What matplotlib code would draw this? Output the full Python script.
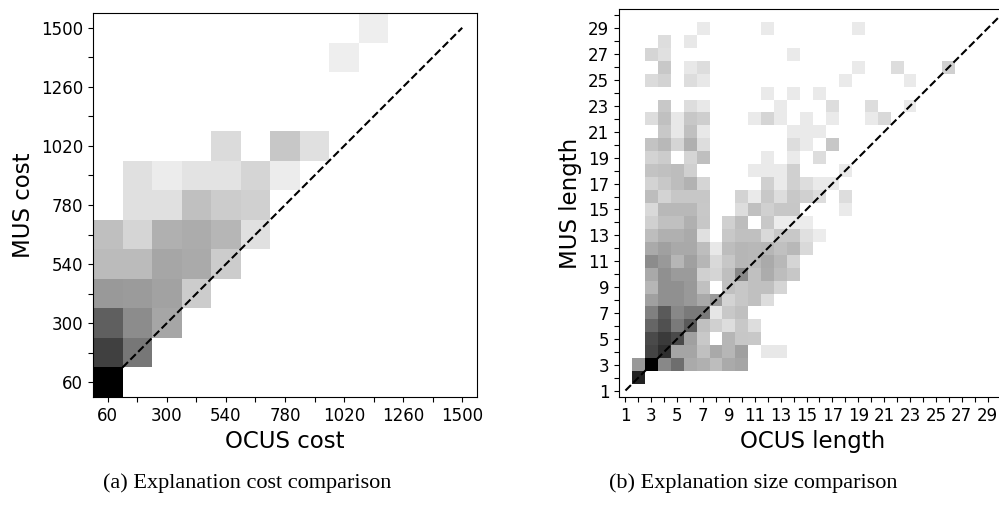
import matplotlib
matplotlib.use("Agg")
import matplotlib.pyplot as plt
from matplotlib.colors import LogNorm
import numpy as np

# (a) cost histogram: bin centres (OCUS cost, MUS cost) and counts
ocus_cost = [60,
             60, 180,
             60, 180, 300,
             60, 180, 300, 420,
             60, 180, 300, 420, 540,
             60, 180, 300, 420, 540, 660,
             180, 300, 420, 540, 660,
             180, 300, 420, 540, 660, 780,
             540, 780, 900,
             1020,
             1140]
mus_cost = [60,
            180, 180,
            300, 300, 300,
            420, 420, 420, 420,
            540, 540, 540, 540, 540,
            660, 660, 660, 660, 660, 660,
            780, 780, 780, 780, 780,
            900, 900, 900, 900, 900, 900,
            1020, 1020, 1020,
            1380,
            1500]
n_cost = [16384,
          1200, 128,
          340, 54, 19,
          32, 30, 22, 4,
          8, 8, 19, 16, 4,
          6.8, 2.8, 12.5, 15, 10, 1.8,
          1.8, 1.8, 6.5, 4, 3.4,
          1.8, 1.1, 1.6, 1.6, 2.8, 1.1,
          2.2, 5, 1.8,
          1,
          1]

# (b) length histogram: one line per MUS length -> (OCUS lengths, counts)
len_rows = {
    2: ([2], [4096]),
    3: ([2, 3, 4, 5, 6, 7, 8, 9, 10], [32, 16384, 64, 185, 16, 12.5, 7.5, 16, 20]),
    4: ([3, 4, 5, 6, 7, 8, 9, 10, 12, 13], [1024, 2500, 20, 20, 6.5, 17, 10, 24, 1.3, 1.3]),
    5: ([3, 4, 5, 6, 7, 9, 10, 11], [800, 1540, 800, 24, 4.7, 10, 5, 4.7]),
    6: ([3, 4, 5, 6, 7, 8, 9, 10, 11], [256, 630, 113, 420, 6.5, 3.4, 2, 4.7, 2]),
    7: ([3, 4, 5, 6, 7, 8, 9, 10], [89, 420, 64, 113, 113, 1.4, 4.7, 6.5]),
    8: ([3, 4, 5, 6, 7, 8, 9, 10, 11, 12], [24, 46, 46, 32, 17, 30, 3, 5, 6.5, 2]),
    9: ([3, 4, 5, 6, 7, 9, 10, 11, 12, 13], [10, 46, 46, 32, 6.5, 6.5, 5, 6.5, 6.5, 2.8]),
    10: ([3, 4, 5, 6, 7, 8, 9, 10, 11, 12, 13, 14],
         [17, 46, 30, 30, 3.4, 2.8, 7, 64, 6.5, 15, 7.5, 5]),
    11: ([3, 4, 5, 6, 7, 8, 9, 10, 11, 12, 13, 14],
         [54, 32, 10, 24, 10, 2.4, 5, 10, 9, 16, 9, 2.8]),
    12: ([3, 4, 5, 6, 7, 8, 9, 10, 11, 12, 13, 14, 15],
         [16, 24, 17, 17, 7.5, 1.3, 7.5, 10, 9, 10, 6.5, 9, 2.4]),
    13: ([3, 4, 5, 6, 7, 9, 10, 11, 12, 13, 14, 15, 16],
         [7.5, 12.5, 12.5, 16, 1.8, 4.7, 6.5, 6.5, 2.4, 4.7, 4.7, 1.8, 1.1]),
    14: ([3, 4, 5, 6, 7, 9, 10, 12, 13, 14, 15],
         [3.4, 6.5, 6.5, 12.5, 5, 3.4, 7.5, 4.7, 1.1, 1.1, 1.1]),
    15: ([3, 4, 5, 6, 7, 10, 11, 12, 13, 14, 18],
         [2.4, 9, 9, 9, 4.7, 2, 6.5, 3.4, 5, 5, 1.2]),
    16: ([3, 4, 5, 6, 7, 10, 11, 12, 13, 14, 15, 16, 18],
         [7.5, 3, 5, 5, 5, 3, 1.2, 4.7, 2, 4.7, 3.4, 2, 2]),
    17: ([3, 4, 5, 6, 7, 12, 13, 14, 15, 16, 17],
         [3, 4.7, 7.5, 11.5, 2.8, 3.4, 1.2, 3.4, 2, 1.2, 1.2]),
    18: ([3, 4, 5, 6, 11, 12, 13, 14, 18], [5.8, 6.5, 7.5, 3.4, 1.2, 1.2, 1.2, 3.4, 1.2]),
    19: ([3, 4, 6, 7, 12, 14, 16], [3, 4, 2.8, 7, 1.2, 1.2, 2]),
    20: ([3, 4, 5, 6, 7, 14, 15, 17], [5.8, 9, 2.8, 12.5, 2, 2, 1.2, 5]),
    21: ([4, 5, 6, 7, 14, 15, 16], [4.7, 1.3, 6.5, 1.3, 1.2, 1.2, 1.2]),
    22: ([3, 4, 5, 6, 7, 11, 12, 13, 15, 17, 20, 21],
         [2, 6.5, 1.3, 5, 3.8, 1.2, 2.8, 1.2, 1.2, 1.2, 1.2, 2.4]),
    23: ([4, 6, 7, 13, 17, 20, 23], [4.7, 2, 1.3, 1.2, 2, 2, 1.2]),
    24: ([12, 14, 16], [1.2, 1.2, 1.2]),
    25: ([3, 4, 6, 7, 18, 23], [2.2, 3, 2, 1.3, 1.2, 1.2]),
    26: ([4, 6, 7, 19, 22, 26], [4.7, 1.3, 2, 1.2, 2, 3.4]),
    27: ([3, 4, 14], [2.8, 1.8, 1.2]),
    28: ([4, 6], [2, 1.3]),
    29: ([7, 12, 19], [1.2, 1.2, 1.2]),
}

cost_ticks = np.arange(60, 1501, 120)
len_ticks = np.arange(1, 31)

ocus_len, mus_len, n_len = [], [], []
for m, (xs, cs) in len_rows.items():
    ocus_len += xs
    mus_len += [m] * len(xs)
    n_len += cs

fig = plt.figure(figsize=(9.99, 5.05), dpi=100)
norm = LogNorm(vmin=0.5, vmax=16384)

# ---- (a) cost ----
ax1 = fig.add_axes([93 / 999, 108 / 505, 384 / 999, 384 / 505])
edges = np.arange(0, 1561, 120)
ax1.hist2d(ocus_cost, mus_cost, bins=[edges, edges], weights=n_cost,
           cmap="gray_r", norm=norm)
ax1.plot([120, 1500], [120, 1500], "k--", lw=1.5)
ax1.set_xlim(0, 1560)
ax1.set_ylim(0, 1560)
ax1.set_xticks(cost_ticks)
ax1.set_yticks(cost_ticks)
lab = [str(t) if i % 2 == 0 else "" for i, t in enumerate(cost_ticks)]
ax1.set_xticklabels(lab)
ax1.set_yticklabels(lab)
ax1.tick_params(labelsize=12)
ax1.set_xlabel("OCUS cost", fontsize=16.5)
ax1.set_ylabel("MUS cost", fontsize=16.5)

# ---- (b) length ----
ax2 = fig.add_axes([619 / 999, 108 / 505, 388 / 999, 388 / 505])
edges2 = np.arange(0.5, 31, 1)
ax2.hist2d(ocus_len, mus_len, bins=[edges2, edges2], weights=n_len,
           cmap="gray_r", norm=norm)
ax2.plot([1, 30], [1, 30], "k--", lw=1.5)
ax2.set_xlim(0.5, 30.5)
ax2.set_ylim(0.5, 30.5)
ax2.set_xticks(len_ticks)
ax2.set_yticks(len_ticks)
lab2 = [str(t) if t % 2 == 1 else "" for t in len_ticks]
ax2.set_xticklabels(lab2)
ax2.set_yticklabels(lab2)
ax2.tick_params(labelsize=12)
ax2.set_xlabel("OCUS length", fontsize=16.5)
ax2.set_ylabel("MUS length", fontsize=16.5)

fig.text(247 / 999, 1 - 483 / 505, "(a) Explanation cost comparison",
         family="Liberation Serif", fontsize=16, ha="center", va="center")
fig.text(753 / 999, 1 - 483 / 505, "(b) Explanation size comparison",
         family="Liberation Serif", fontsize=16, ha="center", va="center")

fig.savefig("out.png", dpi=100)
